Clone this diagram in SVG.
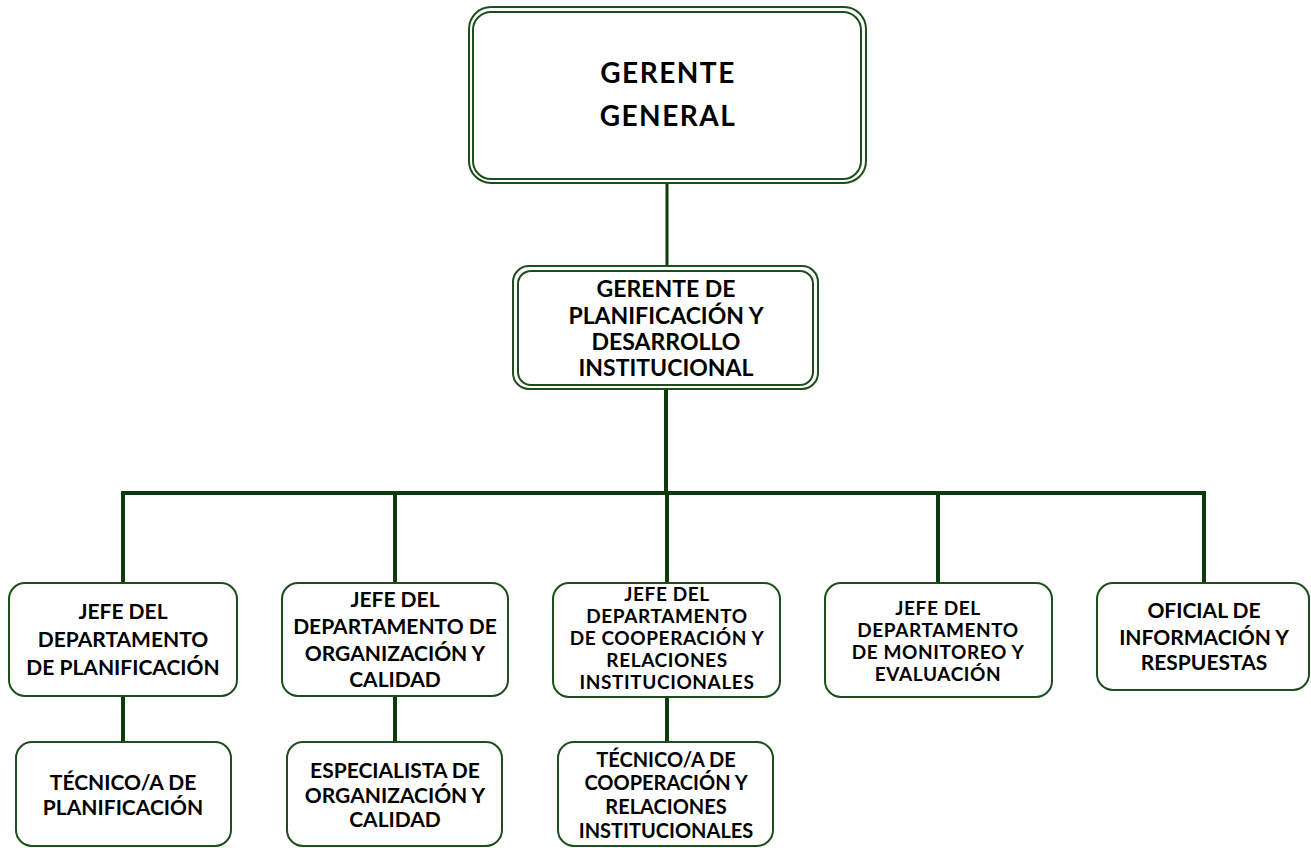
<svg xmlns="http://www.w3.org/2000/svg" width="1311" height="848" viewBox="0 0 1311 848">
<style>
.box{fill:#fff;stroke:#1d4d1d;stroke-width:2}
.conn{stroke:#0b3a0b;fill:none;stroke-linecap:square}
text{font-family:Lato,"Liberation Sans",sans-serif;font-weight:bold;fill:#000;text-anchor:middle}
.t1{font-size:28px;letter-spacing:1.5px}
.t2{font-size:23px}
.t3{font-size:21px}
.t4{font-size:19px;letter-spacing:0.6px}
.t5{font-size:20px}
</style>
<rect width="1311" height="848" fill="#fff"/>
<g id="connectors">
<line class="conn" x1="667" y1="183" x2="667" y2="266" stroke-width="3"/>
<line class="conn" x1="666" y1="389" x2="666" y2="493" stroke-width="4"/>
<line class="conn" x1="123" y1="493" x2="1204" y2="493" stroke-width="4"/>
<line class="conn" x1="123" y1="493" x2="123" y2="583" stroke-width="4"/>
<line class="conn" x1="395" y1="493" x2="395" y2="583" stroke-width="4"/>
<line class="conn" x1="667" y1="493" x2="667" y2="583" stroke-width="4"/>
<line class="conn" x1="938" y1="493" x2="938" y2="583" stroke-width="4"/>
<line class="conn" x1="1204" y1="493" x2="1204" y2="583" stroke-width="4"/>
<line class="conn" x1="123" y1="696" x2="123" y2="742" stroke-width="4"/>
<line class="conn" x1="395" y1="696" x2="395" y2="742" stroke-width="4"/>
<line class="conn" x1="667" y1="697" x2="667" y2="742" stroke-width="4"/>
</g>
<g id="gerente-general">
<rect class="box" x="469" y="7" width="397" height="176" rx="22"/>
<rect class="box" x="473" y="12" width="388" height="167" rx="18"/>
<text class="t1" x="668" y="83">GERENTE</text>
<text class="t1" x="668" y="126">GENERAL</text>
</g>
<g id="gerente-planificacion">
<rect class="box" x="513" y="266" width="305" height="123" rx="16"/>
<rect class="box" x="518" y="271" width="295" height="114" rx="13"/>
<text class="t2" x="666" y="297">GERENTE DE</text>
<text class="t2" x="666" y="324">PLANIFICACIÓN Y</text>
<text class="t2" x="666" y="350">DESARROLLO</text>
<text class="t2" x="666" y="376">INSTITUCIONAL</text>
</g>
<g id="jefe-planificacion">
<rect class="box" x="9" y="583" width="228" height="113" rx="16"/>
<text class="t3" x="123" y="619">JEFE DEL</text>
<text class="t3" x="123" y="647">DEPARTAMENTO</text>
<text class="t3" x="123" y="675">DE PLANIFICACIÓN</text>
</g>
<g id="jefe-organizacion">
<rect class="box" x="282" y="583" width="226" height="113" rx="16"/>
<text class="t3" x="395" y="607">JEFE DEL</text>
<text class="t3" x="395" y="634">DEPARTAMENTO DE</text>
<text class="t3" x="395" y="661">ORGANIZACIÓN Y</text>
<text class="t3" x="395" y="687">CALIDAD</text>
</g>
<g id="jefe-cooperacion">
<rect class="box" x="553" y="583" width="227" height="114" rx="16"/>
<text class="t4" x="667" y="601">JEFE DEL</text>
<text class="t4" x="667" y="623">DEPARTAMENTO</text>
<text class="t4" x="667" y="645">DE COOPERACIÓN Y</text>
<text class="t4" x="667" y="667">RELACIONES</text>
<text class="t4" x="667" y="689">INSTITUCIONALES</text>
</g>
<g id="jefe-monitoreo">
<rect class="box" x="825" y="583" width="227" height="114" rx="16"/>
<text class="t4" x="938" y="615">JEFE DEL</text>
<text class="t4" x="938" y="637">DEPARTAMENTO</text>
<text class="t4" x="938" y="659">DE MONITOREO Y</text>
<text class="t4" x="938" y="681">EVALUACIÓN</text>
</g>
<g id="oficial-informacion">
<rect class="box" x="1097" y="583" width="212" height="107" rx="16"/>
<text class="t3" x="1204" y="618">OFICIAL DE</text>
<text class="t3" x="1204" y="645">INFORMACIÓN Y</text>
<text class="t3" x="1204" y="670">RESPUESTAS</text>
</g>
<g id="tecnico-planificacion">
<rect class="box" x="16" y="742" width="215" height="104" rx="16"/>
<text class="t3" x="123" y="790">TÉCNICO/A DE</text>
<text class="t3" x="123" y="815">PLANIFICACIÓN</text>
</g>
<g id="especialista-organizacion">
<rect class="box" x="287" y="742" width="215" height="104" rx="16"/>
<text class="t3" x="395" y="778">ESPECIALISTA DE</text>
<text class="t3" x="395" y="803">ORGANIZACIÓN Y</text>
<text class="t3" x="395" y="827">CALIDAD</text>
</g>
<g id="tecnico-cooperacion">
<rect class="box" x="558" y="742" width="215" height="104" rx="16"/>
<text class="t5" x="666" y="767">TÉCNICO/A DE</text>
<text class="t5" x="666" y="790">COOPERACIÓN Y</text>
<text class="t5" x="666" y="814">RELACIONES</text>
<text class="t5" x="666" y="838">INSTITUCIONALES</text>
</g>
</svg>
